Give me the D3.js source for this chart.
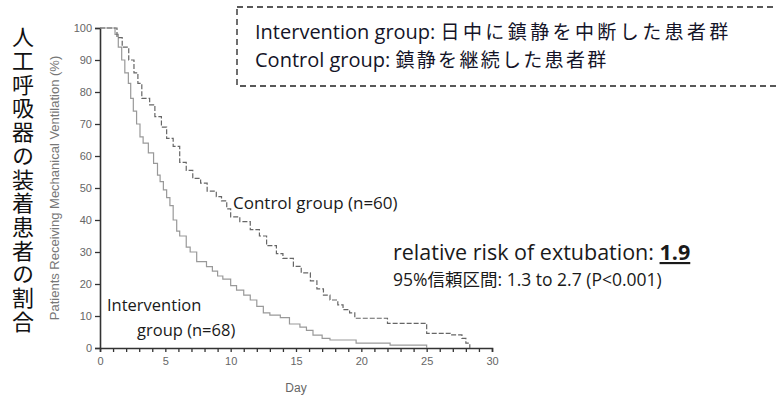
<!DOCTYPE html>
<html>
<head>
<meta charset="utf-8">
<script src="https://cdn.jsdelivr.net/npm/d3@7"></script>
<style>
  html, body { margin: 0; padding: 0; background: #fff; }
  svg { display: block; }
</style>
</head>
<body>
<svg id="chart" width="777" height="397"></svg>
<script>
// Kaplan–Meier style curves: percentage of patients still on mechanical ventilation by day
const controlDays    = [0, 1, 1.3, 1.7, 2.2, 2.6, 2.9, 3.2, 3.8, 4.2, 4.7, 5.1, 5.6, 6.1, 6.6, 7.1, 7.7, 8.2, 8.9, 9.3, 9.7, 10.0, 10.7, 11.5, 12.2, 12.75, 13.5, 14.0, 14.8, 15.4, 16.1, 16.6, 17.1, 17.6, 18.2, 18.6, 19.1, 19.5, 22.0, 25.0, 26.8, 27.7, 28.0, 28.3];
const controlPct     = [100, 100, 97, 94, 90, 86, 82.7, 78, 76, 72.3, 69, 65.5, 63, 58, 55.5, 53, 51.5, 49, 47.3, 46, 43.5, 41, 39.5, 37, 35, 32, 29.5, 28, 25.5, 23.5, 21, 18.5, 16.5, 15, 13.5, 12, 11, 9.3, 7.7, 4.6, 4.1, 3, 1.5, 0];

const interventionDays = [0, 1, 1.15, 1.4, 1.66, 1.9, 2.17, 2.35, 2.55, 2.8, 3.06, 3.3, 3.7, 4.1, 4.4, 4.6, 4.85, 5.1, 5.35, 5.6, 5.87, 6.1, 6.6, 6.9, 7.4, 8.15, 8.6, 9.0, 9.4, 10.0, 10.45, 11.0, 11.5, 12.0, 12.5, 13.0, 13.8, 14.5, 15.3, 15.8, 16.3, 17.0, 17.6, 19.6, 22.2, 25.0];
const interventionPct  = [100, 100, 98, 94, 90, 86, 82.7, 78, 74, 70, 66, 64, 61, 57.7, 54, 52, 49.4, 47, 44.5, 40, 36.5, 35, 31.5, 30, 27, 25.4, 24, 22.5, 21.5, 19.5, 18.1, 16.5, 15, 13, 11, 10.3, 9.5, 7.5, 6.5, 5.5, 4, 3, 2.5, 1.5, 0.9, 0];

const xTickValues = d3.range(0, 31);
const xTickLabels = [0, 5, 10, 15, 20, 25, 30];
const yTickValues = [0, 10, 20, 30, 40, 50, 60, 70, 80, 90, 100];

const svg = d3.select("#chart");
const latin = "'Open Sans', 'Noto Sans CJK JP', sans-serif";
const cjk = "'Noto Sans CJK JP', sans-serif";
const axisFont = "'Liberation Sans', Arial, sans-serif";
const ink = "#1a1a1a";

const x = d3.scaleLinear().domain([0, 30]).range([100, 492]);
const y = d3.scaleLinear().domain([0, 100]).range([348, 28]);

// axes
const xAxis = d3.axisBottom(x)
  .tickValues(xTickValues)
  .tickSize(4)
  .tickFormat(d => xTickLabels.includes(d) ? d : "");
const yAxis = d3.axisLeft(y)
  .tickValues(yTickValues)
  .tickSize(5);

const gx = svg.append("g").attr("transform", `translate(0,${y(0)})`).call(xAxis);
const gy = svg.append("g").attr("transform", `translate(${x(0)},0)`).call(yAxis);
[gx, gy].forEach(g => {
  g.select(".domain").attr("stroke", "#333").attr("stroke-width", 1.6);
  g.selectAll(".tick line").attr("stroke", "#333").attr("stroke-width", 1.3);
  g.selectAll(".tick text").attr("fill", "#666").attr("font-family", axisFont).attr("font-size", 11);
});
gx.selectAll(".tick text").attr("dy", "0.95em");

// axis titles
svg.append("text")
  .attr("transform", "translate(59,188) rotate(-90)")
  .attr("text-anchor", "middle")
  .attr("font-family", axisFont)
  .attr("font-size", 13)
  .attr("fill", "#777")
  .text("Patients Receiving Mechanical Ventilation (%)");

svg.append("text")
  .attr("x", 296).attr("y", 392)
  .attr("text-anchor", "middle")
  .attr("font-family", axisFont)
  .attr("font-size", 12)
  .attr("fill", "#666")
  .text("Day");

// vertical Japanese title
svg.append("text")
  .attr("x", 23).attr("y", 26)
  .style("writing-mode", "vertical-rl")
  .attr("font-family", cjk)
  .attr("font-size", 22)
  .attr("letter-spacing", 1.7)
  .attr("fill", "#111")
  .text("人工呼吸器の装着患者の割合");

// survival curves
const line = d3.line()
  .x(d => x(d[0]))
  .y(d => y(d[1]))
  .curve(d3.curveStepAfter);

svg.append("path")
  .datum(d3.zip(interventionDays, interventionPct))
  .attr("d", line)
  .attr("fill", "none")
  .attr("stroke", "#999")
  .attr("stroke-width", 1.2);

svg.append("path")
  .datum(d3.zip(controlDays, controlPct))
  .attr("d", line)
  .attr("fill", "none")
  .attr("stroke", "#666")
  .attr("stroke-width", 1.2)
  .attr("stroke-dasharray", "5,2");

// curve labels
svg.append("text")
  .attr("x", 233).attr("y", 209)
  .attr("font-family", latin).attr("font-size", 17).attr("fill", ink)
  .text("Control group (n=60)");

svg.append("text")
  .attr("x", 107).attr("y", 311)
  .attr("font-family", latin).attr("font-size", 16.5).attr("fill", ink)
  .text("Intervention");
svg.append("text")
  .attr("x", 137).attr("y", 336)
  .attr("font-family", latin).attr("font-size", 16.5).attr("fill", ink)
  .text("group (n=68)");

// relative risk annotation
const rr = svg.append("text")
  .attr("x", 393).attr("y", 260)
  .attr("font-family", latin).attr("font-size", 21.5).attr("fill", ink);
rr.append("tspan").text("relative risk of extubation: ");
rr.append("tspan").attr("font-weight", "bold").attr("text-decoration", "underline").text("1.9");

const ci = svg.append("text")
  .attr("x", 393).attr("y", 286)
  .attr("font-family", latin).attr("font-size", 17.5).attr("fill", ink);
ci.append("tspan").text("95%");
ci.append("tspan").attr("font-family", cjk).text("信頼区間");
ci.append("tspan").text(": 1.3 to 2.7 (P<0.001)");

// legend box
svg.append("rect")
  .attr("x", 237).attr("y", 7)
  .attr("width", 600).attr("height", 79)
  .attr("fill", "none")
  .attr("stroke", "#222")
  .attr("stroke-width", 1.3)
  .attr("stroke-dasharray", "6,4");

const l1 = svg.append("text")
  .attr("x", 255).attr("y", 39)
  .attr("font-family", latin).attr("font-size", 20).attr("fill", "#141428");
l1.append("tspan").text("Intervention group: ");
l1.append("tspan").attr("font-family", cjk).attr("font-size", 19).attr("letter-spacing", 3.4).text("日中に鎮静を中断した患者群");

const l2 = svg.append("text")
  .attr("x", 255).attr("y", 67)
  .attr("font-family", latin).attr("font-size", 20).attr("fill", "#141428");
l2.append("tspan").text("Control group: ");
l2.append("tspan").attr("font-family", cjk).attr("font-size", 19).attr("letter-spacing", 2.3).text("鎮静を継続した患者群");
</script>
</body>
</html>
